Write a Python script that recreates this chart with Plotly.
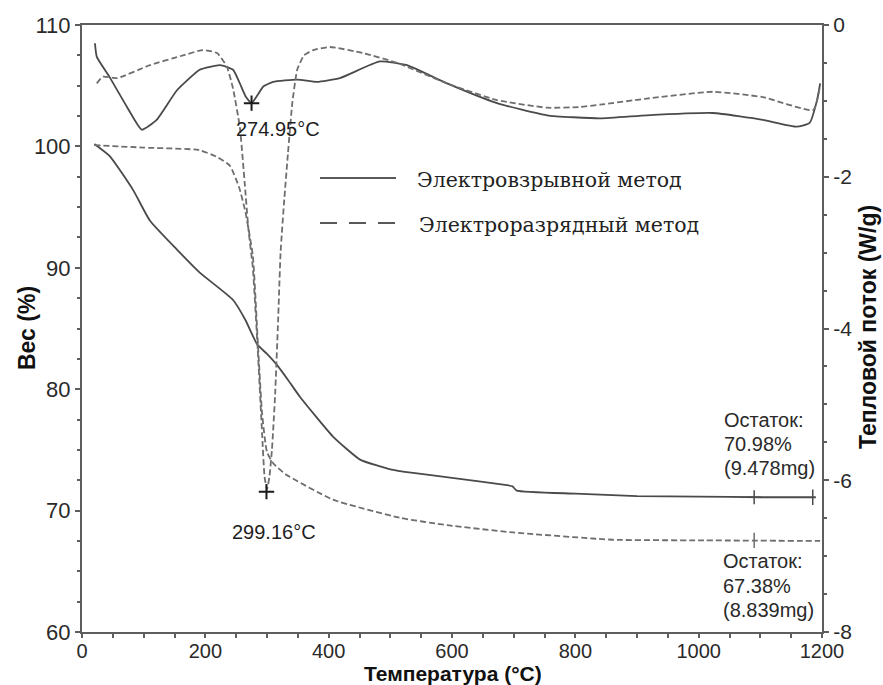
import plotly.graph_objects as go

# ---------------- data ----------------
# TGA, Электровзрывной метод (solid), weight %
tga_ev_T = [20, 45, 83, 110, 154, 191, 245, 265, 284, 300, 316, 335, 353, 407, 451, 500, 537,
            600, 689, 698, 705, 800, 900, 1000, 1100, 1190]
tga_ev_w = [100.2, 99.2, 96.4, 93.9, 91.5, 89.6, 87.35, 85.7, 83.7, 82.9, 82.0, 80.7, 79.4,
            76.1, 74.2, 73.4, 73.1, 72.7, 72.1, 72.0, 71.65, 71.4, 71.2, 71.15, 71.1, 71.1]

# TGA, Электроразрядный метод (dashed), weight %
tga_ed_T = [20, 100, 190, 220, 240, 255, 265, 277, 285, 292, 300, 310, 330, 407, 516,
            592, 699, 861, 1000, 1197]
tga_ed_w = [100.1, 99.9, 99.7, 99.1, 98.4, 96.6, 94.6, 91.0, 84.0, 78.0, 74.8, 73.9,
            73.0, 70.9, 69.4, 68.8, 68.2, 67.6, 67.55, 67.5]

# DSC, Электровзрывной метод (solid), W/g
dsc_ev_T = [21, 24, 45, 73, 97, 121, 154, 191, 224, 245, 256, 266, 275, 285, 294, 310,
            349, 381, 418, 483, 527, 592, 673, 754, 840, 916, 1023, 1104, 1159, 1180,
            1192, 1197]
dsc_ev_v = [-0.24, -0.42, -0.69, -1.08, -1.38, -1.25, -0.86, -0.59, -0.53, -0.59, -0.77,
            -0.95, -1.03, -0.92, -0.81, -0.75, -0.72, -0.75, -0.70, -0.48, -0.53, -0.77,
            -1.03, -1.19, -1.23, -1.19, -1.16, -1.25, -1.34, -1.29, -0.99, -0.77]

# DSC, Электроразрядный метод (dashed), W/g
dsc_ed_T = [24, 34, 57, 110, 164, 196, 219, 235, 245, 256, 264, 270, 277, 285, 292, 296,
            300, 304, 308, 313, 318, 322, 328, 334, 341, 349, 360, 375, 402, 456, 511,
            592, 673, 754, 808, 840, 916, 1023, 1104, 1186, 1197]
dsc_ed_v = [-0.77, -0.68, -0.70, -0.53, -0.40, -0.33, -0.37, -0.55, -0.84, -1.35, -2.1,
            -2.7, -3.2, -4.28, -5.38, -5.95, -6.12, -5.95, -5.6, -4.9, -3.9, -3.0, -2.3,
            -1.69, -1.03, -0.59, -0.40, -0.33, -0.29, -0.37, -0.50, -0.77, -0.99, -1.09,
            -1.08, -1.05, -0.97, -0.88, -0.95, -1.12, -0.79]

# peak markers
peak_T = [274.95, 299.16]
peak_v = [-1.03, -6.15]
# residue markers
res_ev_T = [1090, 1185]
res_ev_w = [71.1, 71.1]
res_ed_T = [1090]
res_ed_w = [67.55]

legend_names = ["Электровзрывной метод", "Электроразрядный метод"]
residue_ev_lines = ["Остаток:", "70.98%", "(9.478mg)"]
residue_ed_lines = ["Остаток:", "67.38%", "(8.839mg)"]
x_title = "Температура (°C)"
y_title = "Вес (%)"
y2_title = "Тепловой поток (W/g)"
x_ticks = [0, 200, 400, 600, 800, 1000, 1200]
y_ticks = [60, 70, 80, 90, 100, 110]
y2_ticks = [-8, -6, -4, -2, 0]
y2_ticklabels = ["-8", "-6", "-4", "-2", "0"]

# ---------------- figure ----------------
SOLID = "#4a4a4a"
DASHC = "#6e6e6e"
AX = "#5e5e5e"
TXT = "#2a2a2a"
SANS = "Liberation Sans, Arial, sans-serif"
SERIF = "DejaVu Serif, serif"

# pixel helpers for the plot frame (decorations only)
PL, PR, PT, PB = 82, 822, 25, 632
def px_x(p):
    return (p - PL) / (PR - PL)
def px_y(p):
    return (PB - p) / (PB - PT)

fig = go.Figure()

line_kw = dict(width=1.8, shape="spline", smoothing=0.45)
fig.add_trace(go.Scatter(x=tga_ev_T, y=tga_ev_w, mode="lines", yaxis="y",
                         line=dict(color=SOLID, **line_kw), showlegend=False))
fig.add_trace(go.Scatter(x=tga_ed_T, y=tga_ed_w, mode="lines", yaxis="y",
                         line=dict(color=DASHC, dash="6px,3px", **line_kw), showlegend=False))
fig.add_trace(go.Scatter(x=dsc_ev_T, y=dsc_ev_v, mode="lines", yaxis="y2",
                         line=dict(color=SOLID, **line_kw), showlegend=False))
fig.add_trace(go.Scatter(x=dsc_ed_T, y=dsc_ed_v, mode="lines", yaxis="y2",
                         line=dict(color=DASHC, dash="6px,3px", **line_kw), showlegend=False))

# peak markers
fig.add_trace(go.Scatter(x=peak_T, y=peak_v, mode="markers", yaxis="y2",
                         marker=dict(symbol="cross-thin-open", size=11, color="#1a1a1a",
                                     line=dict(color="#1a1a1a", width=2)),
                         showlegend=False))
# residue markers
fig.add_trace(go.Scatter(x=res_ev_T[:1], y=res_ev_w[:1], mode="markers", yaxis="y",
                         marker=dict(symbol="cross-thin-open", size=10, color=SOLID,
                                     line=dict(color=SOLID, width=1.5)),
                         showlegend=False))
fig.add_trace(go.Scatter(x=res_ev_T[1:], y=res_ev_w[1:], mode="markers", yaxis="y",
                         marker=dict(symbol="line-ns-open", size=11, color=SOLID,
                                     line=dict(color=SOLID, width=1.5)),
                         showlegend=False))
fig.add_trace(go.Scatter(x=res_ed_T, y=res_ed_w, mode="markers", yaxis="y",
                         marker=dict(symbol="line-ns-open", size=11, color=DASHC,
                                     line=dict(color=DASHC, width=1.5)),
                         showlegend=False))

# custom legend (decoration)
fig.add_shape(type="line", xref="paper", yref="paper", x0=px_x(320), x1=px_x(396),
              y0=px_y(178), y1=px_y(178), line=dict(color="#222222", width=1.5))
fig.add_shape(type="line", xref="paper", yref="paper", x0=px_x(320), x1=px_x(396),
              y0=px_y(223), y1=px_y(223), line=dict(color="#222222", width=1.5, dash="17px,12px"))
fig.add_annotation(text=legend_names[0], xref="paper", yref="paper", x=px_x(415),
                   y=px_y(180), xanchor="left", yanchor="middle", showarrow=False,
                   font=dict(family=SERIF, size=20.5, color="#222222"))
fig.add_annotation(text=legend_names[1], xref="paper", yref="paper", x=px_x(417),
                   y=px_y(225), xanchor="left", yanchor="middle", showarrow=False,
                   font=dict(family=SERIF, size=20.5, color="#222222"))

# text annotations
ann_font = dict(family=SANS, size=20, color="#1e1e1e")
fig.add_annotation(text="274.95°C", x=px_x(278), y=px_y(129), xref="paper", yref="paper",
                   showarrow=False, xanchor="center", yanchor="middle", font=ann_font)
fig.add_annotation(text="299.16°C", x=px_x(274), y=px_y(532), xref="paper", yref="paper",
                   showarrow=False, xanchor="center", yanchor="middle", font=ann_font)
res_font = dict(family=SANS, size=20, color=TXT)
for i, t in enumerate(residue_ev_lines):
    fig.add_annotation(text=t, x=px_x(722), y=px_y(420 + 24 * i), xref="paper", yref="paper",
                       showarrow=False, xanchor="left", yanchor="middle", font=res_font)
for i, t in enumerate(residue_ed_lines):
    fig.add_annotation(text=t, x=px_x(721), y=px_y(561 + 24.5 * i), xref="paper", yref="paper",
                       showarrow=False, xanchor="left", yanchor="middle", font=res_font)

# axis titles
titlefont = dict(family=SANS, size=21, color="#111111", weight="bold")
fig.add_annotation(text=x_title, x=px_x(453), y=px_y(673), xref="paper", yref="paper",
                   showarrow=False, xanchor="center", yanchor="middle", font=titlefont)
fig.add_annotation(text=y_title, x=px_x(27), y=px_y(328), xref="paper", yref="paper",
                   showarrow=False, xanchor="center", yanchor="middle", textangle=-90,
                   font=dict(titlefont, size=23))
fig.add_annotation(text=y2_title, x=px_x(868), y=px_y(327), xref="paper", yref="paper",
                   showarrow=False, xanchor="center", yanchor="middle", textangle=-90,
                   font=dict(titlefont, size=23))

common = dict(showgrid=False, zeroline=False, showline=True, linecolor=AX, linewidth=2,
              automargin=False)
ytick_kw = dict(ticks="outside", ticklen=5, tickwidth=2, tickcolor=AX, **common)

fig.update_layout(
    width=883, height=685,
    margin=dict(l=PL, r=883 - PR, t=PT, b=685 - PB, autoexpand=False),
    paper_bgcolor="white", plot_bgcolor="white",
    xaxis=dict(range=[0, 1200], tickvals=x_ticks, mirror=True, ticks="",
               tickfont=dict(family=SANS, size=20, color=TXT),
               minor=dict(dtick=50, ticks="outside", ticklen=4, tickcolor=AX, tickwidth=2),
               **common),
    yaxis=dict(range=[60, 110], tickvals=y_ticks,
               tickfont=dict(family=SANS, size=22, color=TXT),
               minor=dict(dtick=2.5, ticks="outside", ticklen=3, tickcolor=AX, tickwidth=2),
               **ytick_kw),
    yaxis2=dict(range=[-8, 0], overlaying="y", side="right", anchor="x",
                tickvals=y2_ticks, ticktext=y2_ticklabels,
                tickfont=dict(family=SANS, size=21, color=TXT),
                minor=dict(dtick=0.5, ticks="outside", ticklen=3, tickcolor=AX, tickwidth=2),
                **ytick_kw),
    showlegend=False,
)

fig.write_html("out.html")
